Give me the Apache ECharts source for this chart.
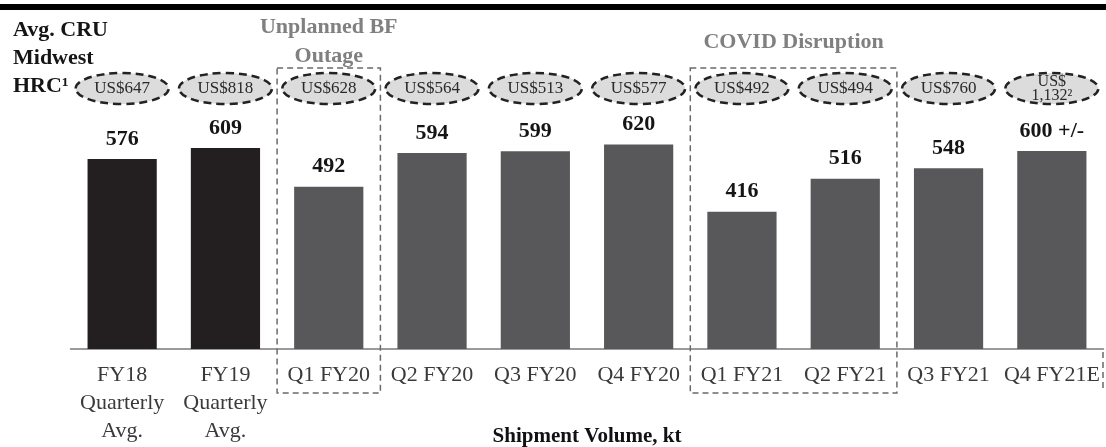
<!DOCTYPE html>
<html>
<head>
<meta charset="utf-8">
<script src="https://cdn.jsdelivr.net/npm/echarts@6/dist/echarts.min.js"></script>
<style>
  html, body { margin: 0; padding: 0; background: #ffffff; }
  #chart { width: 1106px; height: 447px; }
</style>
</head>
<body>
<div id="chart"></div>
<script>
// ---- data ----
const categories = ['FY18\nQuarterly\nAvg.', 'FY19\nQuarterly\nAvg.', 'Q1 FY20', 'Q2 FY20', 'Q3 FY20', 'Q4 FY20', 'Q1 FY21', 'Q2 FY21', 'Q3 FY21', 'Q4 FY21E'];
const shipmentVolume = [576, 609, 492, 594, 599, 620, 416, 516, 548, 600];
const volumeSuffix = ['', '', '', '', '', '', '', '', '', ' +/-'];
const periodType = ['avg', 'avg', 'qtr', 'qtr', 'qtr', 'qtr', 'qtr', 'qtr', 'qtr', 'qtr'];
const hrcLabels = ['US$647', 'US$818', 'US$628', 'US$564', 'US$513', 'US$577', 'US$492', 'US$494', 'US$760', 'US$\n1,132\u00B2'];
const eventStart = [2, 6];
const eventEnd = [2, 7];
const eventTitles = ['Unplanned BF\nOutage', 'COVID Disruption'];
const leftTitle = 'Avg. CRU\nMidwest\nHRC\u00B9';
const axisTitle = 'Shipment Volume, kt';

// ---- chart ----
const SERIF = '"Liberation Serif", "Times New Roman", serif';
const chart = echarts.init(document.getElementById('chart'));

const option = {
  animation: false,
  backgroundColor: '#ffffff',
  grid: { left: 70.5, right: 2.5, top: 118, bottom: 98, containLabel: false, outerBoundsMode: 'none' },
  xAxis: {
    type: 'category',
    data: categories,
    axisLine: { lineStyle: { color: '#7a7a7a', width: 1.5 } },
    axisTick: { show: false },
    axisLabel: {
      interval: 0, margin: 12, color: '#3a3a3a',
      fontFamily: SERIF, fontSize: 22, lineHeight: 28
    },
    name: axisTitle,
    nameLocation: 'middle',
    nameGap: 77,
    nameMoveOverlap: false,
    nameTextStyle: { fontFamily: SERIF, fontSize: 21, fontWeight: 'bold', color: '#111' }
  },
  yAxis: { type: 'value', min: 0, max: 700, show: false, splitLine: { show: false } },
  series: [
    {
      type: 'bar',
      data: shipmentVolume,
      barCategoryGap: '33%',
      itemStyle: {
        color: p => periodType[p.dataIndex] === 'avg' ? '#231f20' : '#58585a'
      },
      label: {
        show: true, position: 'top', distance: 9,
        fontFamily: SERIF, fontSize: 22, fontWeight: 'bold', color: '#151515',
        formatter: p => p.value + volumeSuffix[p.dataIndex]
      },
      z: 3
    },
    {
      type: 'custom',
      clip: false,
      data: eventStart.map((s, i) => [s, eventEnd[i]]),
      renderItem: (params, api) => {
        const band = api.size([1, 0])[0];
        const x0 = api.coord([api.value(0), 0])[0] - band / 2;
        const x1 = api.coord([api.value(1), 0])[0] + band / 2;
        return {
          type: 'group',
          children: [
            {
              type: 'rect',
              shape: { x: x0, y: 68, width: x1 - x0, height: 325 },
              style: { fill: 'none', stroke: '#6a6a6a', lineWidth: 1.5, lineDash: [6, 4] },
              z2: 1
            },
            {
              type: 'text',
              style: {
                text: eventTitles[params.dataIndex],
                x: (x0 + x1) / 2, y: 42,
                align: 'center', verticalAlign: 'middle',
                fontFamily: SERIF, fontSize: 22, fontWeight: 'bold',
                lineHeight: 29, fill: '#808080'
              }
            }
          ]
        };
      },
      z: 1
    },
    {
      type: 'custom',
      clip: false,
      data: hrcLabels.map((t, i) => [i]),
      renderItem: (params, api) => {
        const x = api.coord([api.value(0), 0])[0];
        const txt = hrcLabels[params.dataIndex];
        const twoLine = txt.indexOf('\n') >= 0;
        return {
          type: 'group',
          children: [
            {
              type: 'ellipse',
              shape: { cx: x, cy: 88.5, rx: 46.5, ry: 15.5 },
              style: { fill: '#dcdcdc', stroke: '#222', lineWidth: 2.5, lineDash: [8, 5] }
            },
            {
              type: 'text',
              style: {
                text: txt, x: x, y: 88.5,
                align: 'center', verticalAlign: 'middle',
                fontFamily: SERIF, fontSize: twoLine ? 16 : 17,
                lineHeight: twoLine ? 14 : 18, fill: '#2a2a2a'
              },
              z2: 10
            }
          ]
        };
      },
      z: 4
    }
  ],
  graphic: [
    { type: 'rect', left: 0, top: 4, shape: { width: 1106, height: 6 }, style: { fill: '#000' } },
    {
      type: 'text', left: 13, top: 16,
      style: {
        text: leftTitle, fontFamily: SERIF, fontSize: 22, fontWeight: 'bold',
        lineHeight: 28, fill: '#151515'
      }
    },
    {
      type: 'line', shape: { x1: 1103, y1: 352, x2: 1103, y2: 392 },
      style: { stroke: '#6a6a6a', lineWidth: 1.5, lineDash: [6, 4] }
    }
  ]
};

chart.setOption(option);
</script>
</body>
</html>
